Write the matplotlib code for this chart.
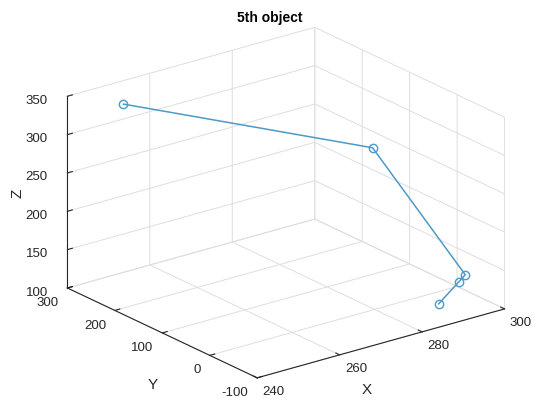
import matplotlib.pyplot as plt
import numpy as np

# point positions of the 5th object
xs = [249, 291, 297.6, 295.6, 286.6]
ys = [260, 100, -38, -42, -77.5]
zs = [338, 265, 130, 125, 120]

x_ticks = [240, 260, 280, 300]
y_ticks = [-100, 0, 100, 200, 300]
z_ticks = [100, 150, 200, 250, 300, 350]

plt.rcParams['font.family'] = ['Liberation Sans', 'DejaVu Sans']
plt.rcParams['axes.unicode_minus'] = False

fig = plt.figure(figsize=(5.39, 4.01), dpi=100)
ax = fig.add_axes([0.021, 0.007, 1.0, 0.95], projection='3d', proj_type='ortho')
ax.view_init(elev=21.3, azim=-127.5)
ax.set_box_aspect((1, 1, 0.66), zoom=1.24)

ax.plot(xs, ys, zs, color='#4d9ac7', lw=1.1, marker='o', ms=6,
        mfc='none', mec='#4d9ac7', mew=1.0)

ax.set_xlim(240, 300)
ax.set_ylim(-100, 300)
ax.set_zlim(100, 350)
ax.set_xticks(x_ticks)
ax.set_yticks(y_ticks)
ax.set_zticks(z_ticks)

for axis in (ax.xaxis, ax.yaxis, ax.zaxis):
    axis.set_pane_color((1, 1, 1, 1))
    axis.pane.set_edgecolor('white')
    axis._axinfo['grid']['color'] = (0.87, 0.87, 0.87, 1)
    axis._axinfo['grid']['linewidth'] = 0.7
    axis.line.set_color('#262626')
    axis.line.set_linewidth(0.8)
    axis._axinfo['tick']['inward_factor'] = 0.0
    axis._axinfo['tick']['outward_factor'] = 0.25

ax.tick_params(labelsize=9.5, colors='#262626')
ax.tick_params(axis='x', pad=-4)
ax.tick_params(axis='y', pad=-3)
ax.tick_params(axis='z', pad=2)
plt.setp(ax.get_xticklabels(), ha='left')
plt.setp(ax.get_yticklabels(), ha='right')

# axis titles placed as in the reference
fig.text(367 / 539, 1 - 390 / 401, 'X', fontsize=11, color='#262626',
         ha='center', va='center')
fig.text(153 / 539, 1 - 385 / 401, 'Y', fontsize=11, color='#262626',
         ha='center', va='center')
fig.text(17 / 539, 1 - 193 / 401, 'Z', fontsize=11, color='#262626',
         ha='center', va='center', rotation=90)
fig.text(0.5, 1 - 18 / 401, '5th object', fontsize=10, fontweight='bold',
         ha='center', va='center')

fig.savefig('out.png', dpi=100)
